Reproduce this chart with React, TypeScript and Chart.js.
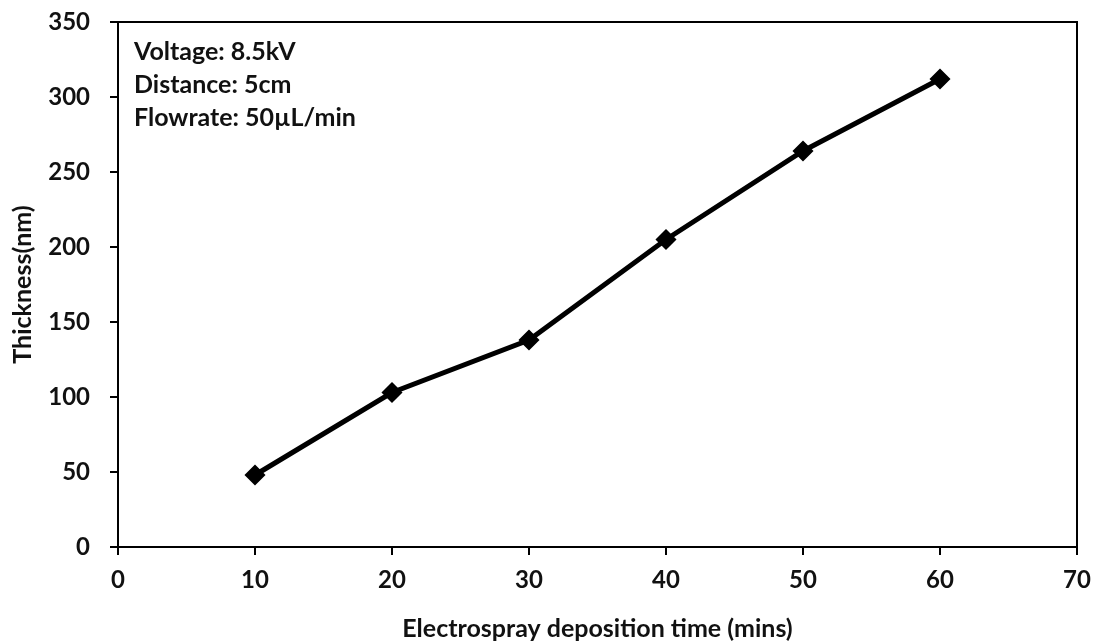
import React, { useEffect, useRef } from "react";
import { Chart, registerables } from "chart.js";
Chart.register(...registerables);

const times = [10, 20, 30, 40, 50, 60];
const thickness = [48, 103, 138, 205, 264, 312];
const annotationLines = ["Voltage: 8.5kV", "Distance: 5cm", "Flowrate: 50\u00b5L/min"];
const xTitle = "Electrospray deposition time (mins)";
const yTitle = "Thickness(nm)";

const FONT = "Lato, 'Open Sans', sans-serif";

export default function App() {
  const ref = useRef<HTMLCanvasElement>(null);
  useEffect(() => {
    document.body.style.margin = "0";
    const boxPlugin = {
      id: "boxAndNotes",
      afterDraw(chart: any) {
        const { ctx, chartArea } = chart;
        ctx.save();
        ctx.strokeStyle = "#000";
        ctx.lineWidth = 2;
        ctx.beginPath();
        ctx.moveTo(chartArea.left, chartArea.top);
        ctx.lineTo(chartArea.right, chartArea.top);
        ctx.lineTo(chartArea.right, chartArea.bottom);
        ctx.stroke();
        ctx.fillStyle = "#111";
        ctx.font = `bold 25px ${FONT}`;
        ctx.textBaseline = "middle";
        ctx.textAlign = "left";
        annotationLines.forEach((t, i) => {
          ctx.fillText(t, chartArea.left + 16, chartArea.top + 30 + i * 33);
        });
        ctx.restore();
      },
    };
    const chart = new Chart(ref.current!, {
      type: "line",
      data: {
        datasets: [
          {
            data: times.map((t, i) => ({ x: t, y: thickness[i] })),
            borderColor: "#000",
            backgroundColor: "#000",
            borderWidth: 5,
            pointStyle: "rectRot",
            pointRadius: 7,
            pointBackgroundColor: "#000",
            pointBorderColor: "#000",
            tension: 0,
          },
        ],
      },
      options: {
        animation: false,
        responsive: false,
        maintainAspectRatio: false,
        layout: { padding: { left: 8, right: 22, top: 22, bottom: 0 } },
        plugins: { legend: { display: false }, tooltip: { enabled: false } },
        scales: {
          x: {
            type: "linear",
            min: 0,
            max: 70,
            ticks: { stepSize: 10, color: "#111", font: { family: FONT, size: 24, weight: "bold" }, padding: 11 },
            grid: { drawOnChartArea: false, tickLength: 8, color: "#000", lineWidth: 2 },
            border: { color: "#000", width: 2 },
            title: { display: true, text: xTitle, color: "#111", font: { family: FONT, size: 25, weight: "bold" }, padding: { top: 4, bottom: 0 } },
            afterFit: (s: any) => { s.height = 97; s.paddingLeft = 0; s.paddingRight = 0; },
          },
          y: {
            min: 0,
            max: 350,
            ticks: { stepSize: 50, color: "#111", font: { family: FONT, size: 24, weight: "bold" }, padding: 20 },
            grid: { drawOnChartArea: false, tickLength: 8, color: "#000", lineWidth: 2 },
            border: { color: "#000", width: 2 },
            title: { display: true, text: yTitle, color: "#111", font: { family: FONT, size: 25, weight: "bold" }, padding: { top: 0, bottom: 4 } },
            afterFit: (s: any) => { s.width = 110; s.paddingTop = 0; s.paddingBottom = 0; },
          },
        },
      },
      plugins: [boxPlugin],
    } as any);
    return () => chart.destroy();
  }, []);
  return (
    <div style={{ width: 1099, height: 644, background: "#fff" }}>
      <canvas ref={ref} width={1099} height={644} />
    </div>
  );
}
